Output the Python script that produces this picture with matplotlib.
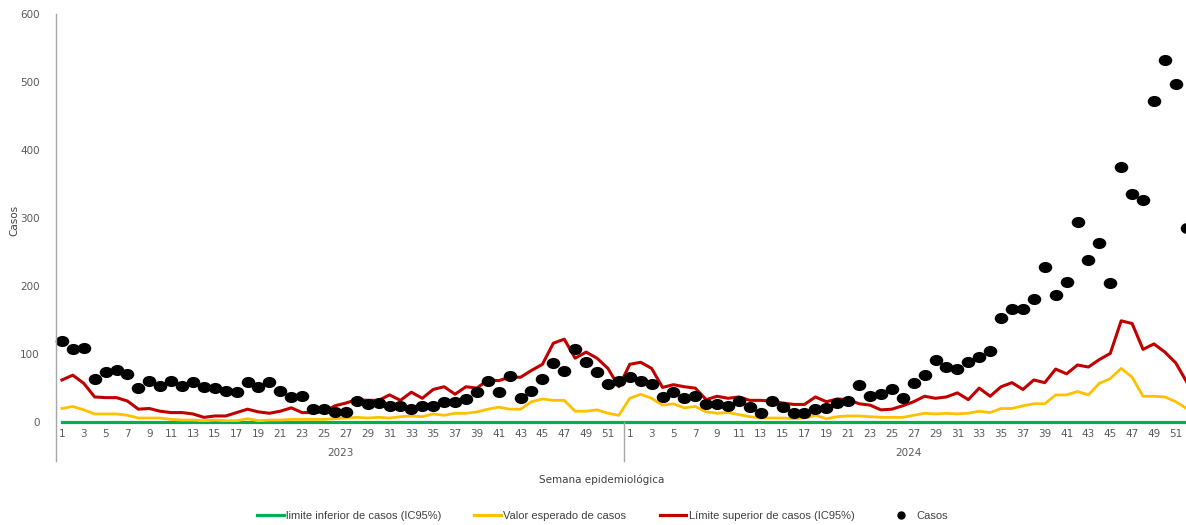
import numpy as np
import matplotlib
matplotlib.use("Agg")
import matplotlib.pyplot as plt
from matplotlib.lines import Line2D
from matplotlib.markers import MarkerStyle
from matplotlib.transforms import Affine2D, blended_transform_factory

# semanas epidemiologicas 2023 y 2024
years = ["2023", "2024"]
n_weeks = 52

casos_2023 = [119, 107, 109, 64, 74, 77, 71, 50, 61, 53, 60, 53, 59, 52, 50, 46, 45, 59, 52, 59,
              46, 37, 39, 19, 19, 15, 15, 31, 26, 28, 23, 24, 19, 23, 24, 29, 29, 34, 44, 61,
              44, 68, 36, 46, 63, 87, 75, 107, 88, 73, 56, 60]
casos_2024 = [66, 60, 56, 37, 44, 35, 38, 26, 26, 24, 31, 22, 13, 31, 22, 14, 14, 19, 21, 28,
              31, 54, 39, 41, 48, 35, 57, 70, 92, 81, 78, 89, 96, 104, 153, 166, 167, 181, 228, 187,
              206, 294, 238, 263, 204, 375, 335, 326, 473, 532, 497, 285]

superior_2023 = [62, 69, 57, 37, 36, 36, 31, 19, 20, 16, 14, 14, 12, 7, 9, 9, 14, 19, 15, 13,
                 16, 21, 14, 14, 15, 24, 28, 33, 32, 32, 40, 32, 44, 35, 48, 52, 41, 52, 50, 62,
                 61, 66, 66, 76, 85, 116, 122, 94, 103, 94, 79, 52]
superior_2024 = [85, 88, 79, 51, 55, 52, 50, 33, 38, 35, 37, 32, 32, 31, 28, 26, 26, 37, 30, 34,
                 33, 27, 25, 18, 19, 24, 30, 38, 35, 37, 43, 33, 50, 38, 52, 58, 48, 62, 58, 78,
                 71, 84, 81, 92, 101, 149, 145, 107, 115, 103, 87, 59]

esperado_2023 = [20, 23, 18, 12, 12, 12, 10, 6, 6, 6, 4, 3, 3, 2, 3, 2, 2, 5, 2, 3,
                 3, 4, 4, 4, 4, 5, 6, 7, 6, 7, 6, 8, 9, 8, 12, 10, 13, 13, 15, 19,
                 22, 19, 19, 30, 34, 32, 32, 16, 16, 18, 13, 10]
esperado_2024 = [35, 41, 35, 25, 27, 21, 23, 15, 13, 14, 11, 8, 6, 6, 6, 5, 6, 10, 5, 8,
                 9, 9, 8, 7, 7, 7, 10, 13, 12, 13, 12, 13, 16, 14, 20, 20, 24, 27, 27, 40,
                 40, 45, 40, 57, 64, 79, 66, 38, 38, 37, 30, 20]

inferior_2023 = [0] * n_weeks
inferior_2024 = [0] * n_weeks

casos = casos_2023 + casos_2024
superior = superior_2023 + superior_2024
esperado = esperado_2023 + esperado_2024
inferior = inferior_2023 + inferior_2024

labels = ["limite inferior de casos (IC95%)", "Valor esperado de casos",
          "Límite superior de casos (IC95%)", "Casos"]

x = np.arange(len(casos))
week_labels = [str(w) if w % 2 else "" for _ in years for w in range(1, n_weeks + 1)]

GREEN, YELLOW, RED = "#00B050", "#FFC000", "#C00000"
GRAY_TXT = "#595959"
GRAY_AX = "#A6A6A6"

fig = plt.figure(figsize=(11.86, 5.25), dpi=100)
ax = fig.add_axes([0.0476, 0.196, 0.9576, 0.777])

ax.plot(x, inferior, color=GREEN, lw=2.3, clip_on=False)
ax.plot(x, esperado, color=YELLOW, lw=2.0)
ax.plot(x, superior, color=RED, lw=2.2)
dot = MarkerStyle("o", transform=Affine2D().scale(1.25, 1.0))
ax.plot(x, casos, ls="none", marker=dot, ms=7, color="black", clip_on=False)

ax.set_xlim(-0.5, len(x) - 0.5)
ax.set_ylim(0, 600)
for s in ax.spines.values():
    s.set_visible(False)

ax.set_yticks(range(0, 601, 100))
ax.tick_params(axis="y", length=0, pad=12, labelsize=7.5, labelcolor=GRAY_TXT)
ax.set_xticks(x, labels=week_labels)
ax.tick_params(axis="x", length=0, pad=5, labelsize=7.5, labelcolor=GRAY_TXT)

# eje vertical y separadores de año
trans = blended_transform_factory(ax.transData, ax.transAxes)
ax.plot([-0.5, -0.5], [-0.095, 1], transform=trans, color=GRAY_AX, lw=1, clip_on=False)
for i in range(1, len(years)):
    xs = i * n_weeks - 0.5
    ax.plot([xs, xs], [-0.095, 0], transform=trans, color=GRAY_AX, lw=1, clip_on=False)
for i, yr in enumerate(years):
    ax.text(i * n_weeks + (n_weeks - 1) / 2, -0.076, yr, transform=trans,
            ha="center", va="center", fontsize=7.5, color=GRAY_TXT)

fig.text(0.507, 0.086, "Semana epidemiológica", ha="center", va="center",
         fontsize=7.5, color="#404040")
fig.text(0.012, 0.581, "Casos", ha="center", va="center", rotation=90,
         fontsize=7.5, color="#404040")

handles = [Line2D([], [], color=GREEN, lw=2.3),
           Line2D([], [], color=YELLOW, lw=2.3),
           Line2D([], [], color=RED, lw=2.3),
           Line2D([], [], ls="none", marker="o", ms=5, color="black")]
fig.legend(handles, labels, loc="center", bbox_to_anchor=(0.508, 0.017), ncol=4,
           frameon=False, handlelength=2.4, handletextpad=0.2, columnspacing=3.0,
           prop={"family": "Liberation Sans", "size": 8},
           labelcolor="#404040")

fig.savefig("out.png", dpi=100)
